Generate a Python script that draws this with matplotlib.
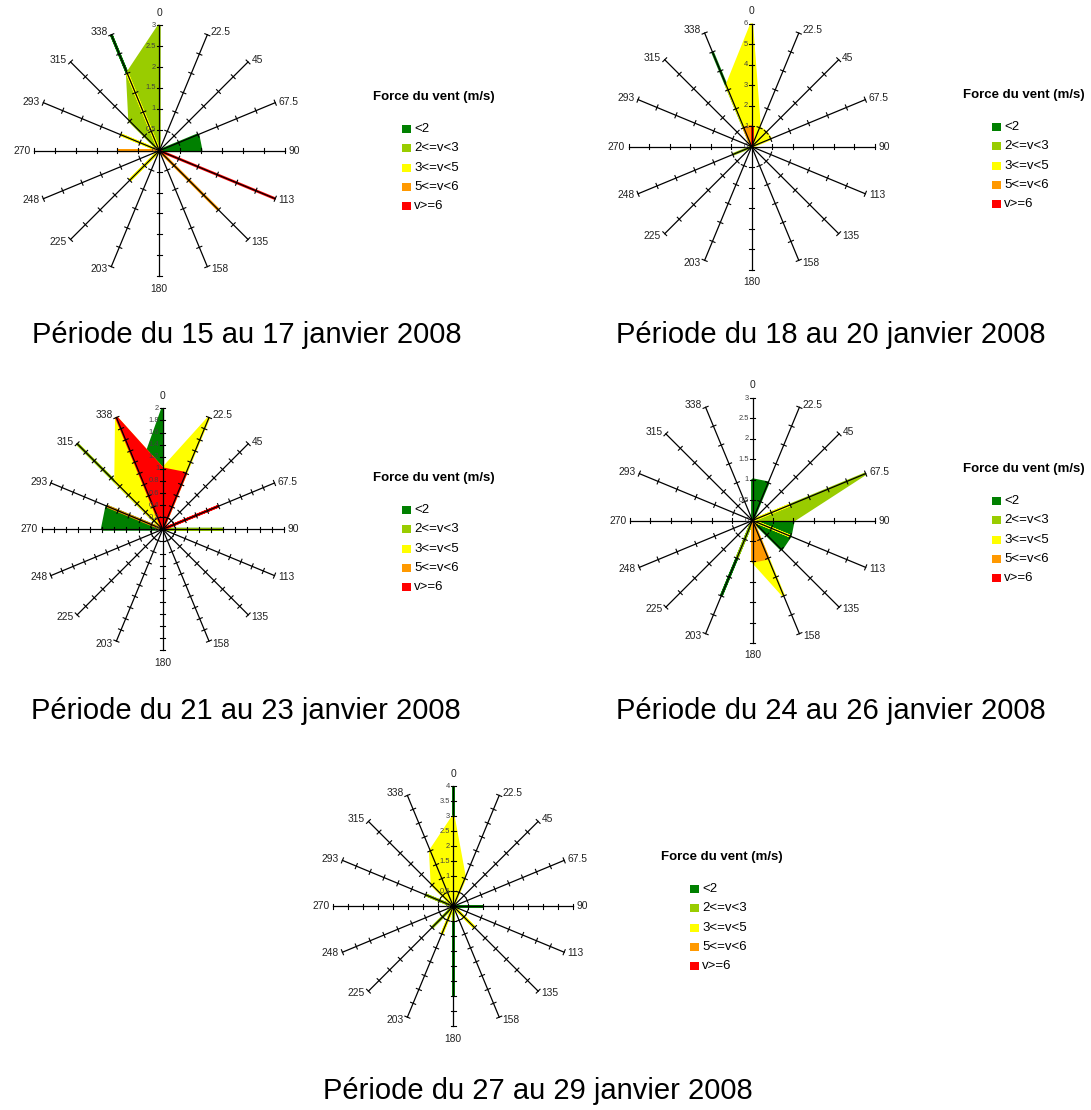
import numpy as np
import matplotlib.pyplot as plt
from matplotlib.patches import Rectangle

plt.rcParams['font.family'] = ['Liberation Sans', 'DejaVu Sans']

W, H = 1091, 1110  # figure size in pixels

# wind directions (deg, clockwise from north) and the labels printed on the spokes
dirs = [0, 22.5, 45, 67.5, 90, 112.5, 135, 157.5, 180, 202.5, 225, 247.5, 270, 292.5, 315, 337.5]
dir_labels = ['0', '22.5', '45', '67.5', '90', '113', '135', '158',
              '180', '203', '225', '248', '270', '293', '315', '338']

classes = ['<2', '2<=v<3', '3<=v<5', '5<=v<6', 'v>=6']
colors = ['#008000', '#99CC00', '#FFFF00', '#FF9900', '#FF0000']

# Période du 15 au 17 janvier 2008
p1_lt2 = [0, 0, 0, 1, 1, 0, 0, 0, 0, 0, 0, 0, 0, 0, 0, 3]
p1_2_3 = [3, 0, 0, 0, 0, 0, 0, 0, 0, 0, 0, 0, 0, 0, 1, 2]
p1_3_5 = [0, 0, 0, 0, 0, 0, 0, 0, 0, 0, 1, 0, 0, 1, 0, 2]
p1_5_6 = [0, 0, 0, 0, 0, 0, 2, 0, 0, 0, 0, 0, 1, 0, 0, 0]
p1_ge6 = [0, 0, 0, 0, 0, 3, 0, 0, 0, 0, 0, 0, 0, 0, 0, 0]

# Période du 18 au 20 janvier 2008
p2_lt2 = [0, 0, 0, 0, 0, 0, 0, 0, 0, 0, 0, 0, 0, 0, 0, 5]
p2_2_3 = [0, 0, 0, 0, 0, 0, 0, 0, 0, 0, 0, 1, 0, 0, 0, 0]
p2_3_5 = [6, 1, 1, 1, 0, 0, 0, 0, 0, 0, 0, 0, 0, 0, 0, 3.2]
p2_5_6 = [1, 0, 0, 0, 0, 0, 0, 0, 0, 0, 0, 0, 0, 0, 0, 1]
p2_ge6 = [1, 0, 0, 0, 0, 0, 0, 0, 0, 0, 0, 0, 0, 0, 0, 0]

# Période du 21 au 23 janvier 2008
p3_lt2 = [2, 0, 0, 0, 1, 0, 0, 0, 0, 0, 0, 0, 1, 1, 0, 1]
p3_2_3 = [0, 0, 0, 0, 1, 0, 0, 0, 0, 0, 0, 0, 0, 0, 2, 0]
p3_3_5 = [1, 2, 0, 0, 0, 0, 0, 0, 0, 0, 0, 0, 0, 0, 1.1, 2]
p3_5_6 = [0, 0, 0, 0, 0, 0, 0, 0, 0, 0, 0, 0, 0, 1, 0, 0]
p3_ge6 = [1, 1, 0, 1, 0, 0, 0, 0, 0, 0, 0, 0, 0, 0, 0, 2]

# Période du 24 au 26 janvier 2008
p4_lt2 = [1, 1, 0, 0, 1, 1, 1, 0, 0, 2, 0, 0, 0, 0, 0, 0]
p4_2_3 = [0, 0, 0, 3, 1, 0, 0, 0, 0, 1, 0, 0, 0, 0, 0, 0]
p4_3_5 = [0, 0, 0, 1, 0, 1, 0, 2, 1, 0, 0, 0, 0, 0, 0, 0]
p4_5_6 = [0, 0, 0, 0, 0, 0, 0, 1, 1, 0, 0, 0, 0, 0, 0, 0]
p4_ge6 = [0, 0, 0, 0, 0, 0, 0, 0, 0, 0, 0, 0, 0, 0, 0, 0]

# Période du 27 au 29 janvier 2008
p5_lt2 = [4, 0, 0, 0, 1, 0, 0, 0, 3, 0, 0, 0, 0, 0, 0, 0]
p5_2_3 = [0, 0, 0, 0, 0, 0, 0, 0, 0.5, 0, 1, 0, 0, 1, 0, 0]
p5_3_5 = [3, 1, 0, 0, 0, 0, 1, 0, 0, 1, 0, 0, 0, 0, 1, 2]
p5_5_6 = [0, 0, 0, 0, 0, 0, 0, 0, 0, 0, 0, 0, 0, 0, 0, 0]
p5_ge6 = [0, 0, 0, 0, 0, 0, 0, 0, 0, 0, 0, 0, 0, 0, 0, 0]

titles = ['Période du 15 au 17 janvier 2008', 'Période du 18 au 20 janvier 2008',
          'Période du 21 au 23 janvier 2008', 'Période du 24 au 26 janvier 2008',
          'Période du 27 au 29 janvier 2008']

# layout of each panel (pixels): radar centre, radius, axis max, step, title, legend
charts = [
    dict(series=[p1_lt2, p1_2_3, p1_3_5, p1_5_6, p1_ge6], vmax=3, step=0.5,
         c=(159.3, 150.7), r=125.5, tpos=(247, 343), lpos=(373, 96.7)),
    dict(series=[p2_lt2, p2_2_3, p2_3_5, p2_5_6, p2_ge6], vmax=6, step=1,
         c=(751.7, 146.7), r=123, tpos=(831, 343), lpos=(963, 94.7)),
    dict(series=[p3_lt2, p3_2_3, p3_3_5, p3_5_6, p3_ge6], vmax=2, step=0.2,
         c=(162.7, 529.3), r=121, tpos=(246, 719), lpos=(373, 477.7)),
    dict(series=[p4_lt2, p4_2_3, p4_3_5, p4_5_6, p4_ge6], vmax=3, step=0.5,
         c=(752.5, 520.5), r=122.5, tpos=(831, 719), lpos=(963, 468.7)),
    dict(series=[p5_lt2, p5_2_3, p5_3_5, p5_5_6, p5_ge6], vmax=4, step=0.5,
         c=(453.3, 906.3), r=120, tpos=(538, 1099), lpos=(661, 856.7)),
]

fig = plt.figure(figsize=(W / 100, H / 100), dpi=100)

th = np.radians(dirs)
ex, ey = np.sin(th), np.cos(th)

for ch, title in zip(charts, titles):
    cx, cy = ch['c']
    vmax, step, rpx = ch['vmax'], ch['step'], ch['r']
    half = 170
    ax = fig.add_axes([(cx - half) / W, 1 - (cy + half) / H, 2 * half / W, 2 * half / H])
    lim = half / rpx * vmax
    ax.set_xlim(-lim, lim)
    ax.set_ylim(-lim, lim)
    ax.axis('off')
    px = vmax / rpx  # data units per pixel

    # filled series, later classes on top
    for k, vals in enumerate(ch['series']):
        v = np.array(vals, dtype=float)
        ax.fill(v * ex, v * ey, facecolor=colors[k], edgecolor=colors[k],
                lw=2.0, joinstyle='bevel', zorder=2 + k)

    # spokes with tick marks
    rings = np.arange(step, vmax + step / 2, step)
    for i in range(len(dirs)):
        ax.plot([0, vmax * ex[i]], [0, vmax * ey[i]], color='black', lw=0.9, zorder=10)
        tx, ty = [], []
        for rr in rings:
            x0, y0 = rr * ex[i], rr * ey[i]
            dx, dy = 2.7 * px * ey[i], -2.7 * px * ex[i]
            tx += [x0 - dx, x0 + dx, np.nan]
            ty += [y0 - dy, y0 + dy, np.nan]
        ax.plot(tx, ty, color='black', lw=0.8, zorder=10)

        # direction label
        lab = dir_labels[i]
        if abs(ex[i]) < 1e-6:
            sgn = 1 if ey[i] > 0 else -1
            ax.text(0, sgn * (vmax + 12.5 * px), lab, ha='center', va='center',
                    fontsize=7.4, color='#222222', zorder=11)
        else:
            ha = 'left' if ex[i] > 0 else 'right'
            ax.text(vmax * ex[i] + np.sign(ex[i]) * 3.5 * px,
                    vmax * ey[i] + 3 * ey[i] * px, lab, ha=ha, va='center',
                    fontsize=7.4, color='#222222', zorder=11)

    # value labels along the north spoke
    for rr in np.arange(0, vmax + step / 2, step):
        ax.text(-3.5 * px, rr, '%g' % round(rr, 2), ha='right', va='center',
                fontsize=5.4, color='#404040', zorder=11)

    # period title
    tx0, ty0 = ch['tpos']
    fig.text(tx0 / W, 1 - ty0 / H, title, ha='center', va='baseline', fontsize=21)

    # legend
    lx, ly = ch['lpos']
    fig.text(lx / W, 1 - ly / H, 'Force du vent (m/s)', ha='left', va='center',
             fontsize=9.5, fontweight='bold')
    for k, name in enumerate(classes):
        yy = ly + 32.3 + 19.3 * k
        fig.add_artist(Rectangle(((lx + 29) / W, 1 - (yy + 3.9) / H), 8.7 / W, 7.8 / H,
                                 transform=fig.transFigure, facecolor=colors[k],
                                 edgecolor='none'))
        fig.text((lx + 41) / W, 1 - yy / H, name, ha='left', va='center', fontsize=9.5)

fig.savefig('out.png', dpi=100)
